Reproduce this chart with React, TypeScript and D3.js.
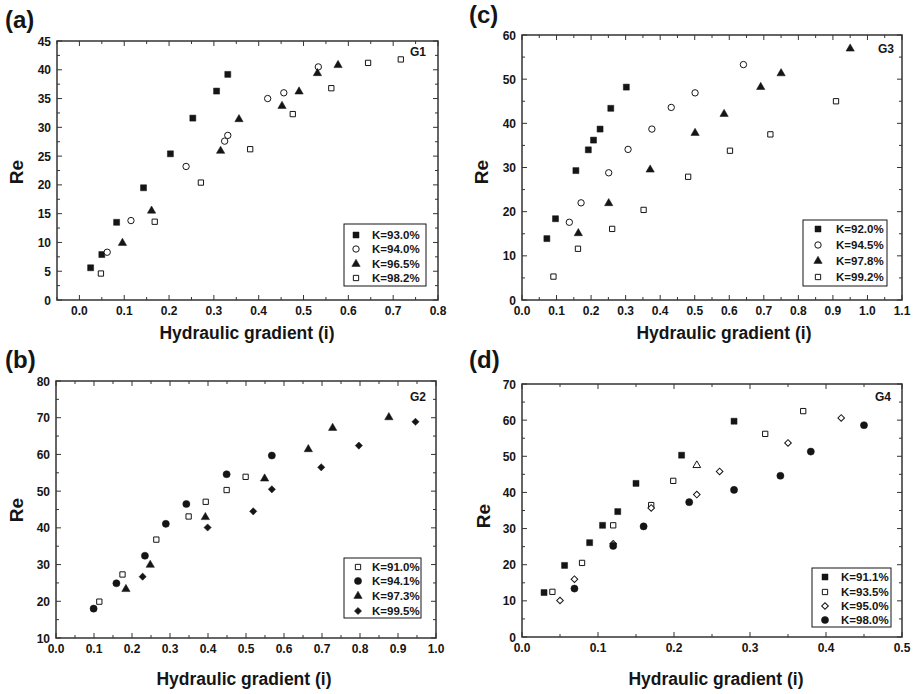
import React, { useEffect, useRef } from 'react';
import * as d3 from 'd3';

type Pt = [number, number];

// (a) G1
const g1Legend = ['K=93.0%', 'K=94.0%', 'K=96.5%', 'K=98.2%'];
const g1K930: Pt[] = [[0.025, 5.6], [0.05, 7.9], [0.083, 13.5], [0.143, 19.5], [0.203, 25.4], [0.253, 31.6], [0.306, 36.3], [0.331, 39.2]];
const g1K940: Pt[] = [[0.062, 8.3], [0.115, 13.8], [0.238, 23.2], [0.324, 27.6], [0.331, 28.6], [0.42, 35.0], [0.456, 36.0], [0.533, 40.5]];
const g1K965: Pt[] = [[0.096, 9.9], [0.161, 15.5], [0.315, 25.9], [0.356, 31.4], [0.452, 33.7], [0.49, 36.2], [0.531, 39.4], [0.577, 40.8]];
const g1K982: Pt[] = [[0.048, 4.6], [0.168, 13.6], [0.271, 20.4], [0.381, 26.2], [0.476, 32.3], [0.562, 36.8], [0.644, 41.2], [0.717, 41.8]];

// (b) G2
const g2Legend = ['K=91.0%', 'K=94.1%', 'K=97.3%', 'K=99.5%'];
const g2K910: Pt[] = [[0.114, 19.9], [0.175, 27.3], [0.264, 36.8], [0.349, 43.1], [0.394, 47.1], [0.449, 50.3], [0.499, 53.9]];
const g2K941: Pt[] = [[0.099, 18.0], [0.159, 24.9], [0.234, 32.4], [0.289, 41.1], [0.343, 46.5], [0.449, 54.6], [0.568, 59.7]];
const g2K973: Pt[] = [[0.184, 23.3], [0.248, 29.9], [0.393, 42.9], [0.549, 53.4], [0.664, 61.4], [0.728, 67.2], [0.876, 70.1]];
const g2K995: Pt[] = [[0.228, 26.7], [0.399, 40.1], [0.519, 44.5], [0.568, 50.5], [0.698, 56.5], [0.797, 62.4], [0.946, 68.9]];

// (c) G3
const g3Legend = ['K=92.0%', 'K=94.5%', 'K=97.8%', 'K=99.2%'];
const g3K920: Pt[] = [[0.072, 13.9], [0.097, 18.4], [0.156, 29.3], [0.192, 34.0], [0.207, 36.2], [0.226, 38.7], [0.257, 43.4], [0.302, 48.2]];
const g3K945: Pt[] = [[0.137, 17.6], [0.171, 22.0], [0.251, 28.8], [0.307, 34.1], [0.376, 38.7], [0.432, 43.6], [0.501, 46.9], [0.641, 53.3]];
const g3K978: Pt[] = [[0.163, 15.1], [0.251, 21.9], [0.371, 29.5], [0.501, 37.8], [0.585, 42.1], [0.691, 48.2], [0.75, 51.3], [0.95, 56.9]];
const g3K992: Pt[] = [[0.091, 5.3], [0.162, 11.6], [0.261, 16.1], [0.352, 20.4], [0.481, 27.9], [0.602, 33.8], [0.719, 37.5], [0.909, 45.0]];

// (d) G4
const g4Legend = ['K=91.1%', 'K=93.5%', 'K=95.0%', 'K=98.0%'];
const g4K911: Pt[] = [[0.029, 12.3], [0.056, 19.8], [0.089, 26.1], [0.106, 30.9], [0.126, 34.7], [0.15, 42.5], [0.21, 50.3], [0.279, 59.7]];
const g4K935: Pt[] = [[0.04, 12.5], [0.079, 20.5], [0.12, 30.9], [0.17, 36.5], [0.199, 43.2], [0.32, 56.2], [0.37, 62.5]];
const g4K950: Pt[] = [[0.05, 10.1], [0.069, 16.0], [0.12, 25.8], [0.17, 35.7], [0.23, 39.4], [0.26, 45.8], [0.35, 53.7], [0.42, 60.6]];
const g4K980: Pt[] = [[0.069, 13.4], [0.12, 25.2], [0.16, 30.6], [0.22, 37.3], [0.279, 40.7], [0.34, 44.6], [0.38, 51.3], [0.45, 58.6]];
const g4Stray: Pt[] = [[0.23, 47.5]]; // open triangle, not in legend

type Marker = 'sq' | 'osq' | 'ci' | 'oci' | 'tri' | 'otri' | 'dia' | 'odia';

interface Panel {
  tag: string; group: string;
  left: number; right: number; top: number; bottom: number;
  xDomain: [number, number]; xMajor: number; xMinor: number;
  yDomain: [number, number]; yMajor: number; yMinor: number;
  series: { pts: Pt[]; marker: Marker; label?: string }[];
  legend: { x0: number; x1: number; y0: number; y1: number; rows: number[]; mx: number; tx: number };
  tagPos: [number, number]; groupPos: [number, number];
  xTitlePos: [number, number]; yTitlePos: [number, number];
}

const panels: Panel[] = [
  {
    tag: '(a)', group: 'G1', left: 57, right: 438, top: 41, bottom: 300,
    xDomain: [-0.05, 0.8], xMajor: 0.1, xMinor: 0.05, yDomain: [0, 45], yMajor: 5, yMinor: 2.5,
    series: [
      { pts: g1K930, marker: 'sq', label: g1Legend[0] },
      { pts: g1K940, marker: 'oci', label: g1Legend[1] },
      { pts: g1K965, marker: 'tri', label: g1Legend[2] },
      { pts: g1K982, marker: 'osq', label: g1Legend[3] },
    ],
    legend: { x0: 344, x1: 426, y0: 224, y1: 286, rows: [235, 249, 264, 278], mx: 356, tx: 372 },
    tagPos: [5, 28], groupPos: [418, 56], xTitlePos: [247, 339], yTitlePos: [16, 172],
  },
  {
    tag: '(c)', group: 'G3', left: 522, right: 902, top: 35, bottom: 300,
    xDomain: [0, 1.1], xMajor: 0.1, xMinor: 0.05, yDomain: [0, 60], yMajor: 10, yMinor: 5,
    series: [
      { pts: g3K920, marker: 'sq', label: g3Legend[0] },
      { pts: g3K945, marker: 'oci', label: g3Legend[1] },
      { pts: g3K978, marker: 'tri', label: g3Legend[2] },
      { pts: g3K992, marker: 'osq', label: g3Legend[3] },
    ],
    legend: { x0: 803, x1: 887, y0: 220, y1: 286, rows: [229, 245, 261, 277], mx: 818, tx: 836 },
    tagPos: [469, 23], groupPos: [886, 53], xTitlePos: [724, 339], yTitlePos: [481, 172],
  },
  {
    tag: '(b)', group: 'G2', left: 56, right: 436, top: 381, bottom: 638,
    xDomain: [0, 1.0], xMajor: 0.1, xMinor: 0.05, yDomain: [10, 80], yMajor: 10, yMinor: 5,
    series: [
      { pts: g2K910, marker: 'osq', label: g2Legend[0] },
      { pts: g2K941, marker: 'ci', label: g2Legend[1] },
      { pts: g2K973, marker: 'tri', label: g2Legend[2] },
      { pts: g2K995, marker: 'dia', label: g2Legend[3] },
    ],
    legend: { x0: 344, x1: 421, y0: 558, y1: 618, rows: [567, 581, 596, 611], mx: 358, tx: 372 },
    tagPos: [5, 368], groupPos: [418, 401], xTitlePos: [244, 685], yTitlePos: [16, 510],
  },
  {
    tag: '(d)', group: 'G4', left: 522, right: 902, top: 384, bottom: 637,
    xDomain: [0, 0.5], xMajor: 0.1, xMinor: 0.05, yDomain: [0, 70], yMajor: 10, yMinor: 5,
    series: [
      { pts: g4K911, marker: 'sq', label: g4Legend[0] },
      { pts: g4K935, marker: 'osq', label: g4Legend[1] },
      { pts: g4K950, marker: 'odia', label: g4Legend[2] },
      { pts: g4K980, marker: 'ci', label: g4Legend[3] },
      { pts: g4Stray, marker: 'otri' },
    ],
    legend: { x0: 812, x1: 891, y0: 568, y1: 627, rows: [577, 592, 606, 620], mx: 825, tx: 841 },
    tagPos: [469, 368], groupPos: [883, 401], xTitlePos: [716, 685], yTitlePos: [483, 516],
  },
];

const FONT = 'Liberation Sans, Arial, Helvetica, sans-serif';
const INK = '#151515';

// steps between a and b, rounded so 0.1 multiples don't drift
const stepRange = (a: number, b: number, step: number) => {
  const out: number[] = [];
  const n0 = Math.ceil(a / step - 1e-6), n1 = Math.floor(b / step + 1e-6);
  for (let i = n0; i <= n1; i++) out.push(+(i * step).toFixed(4));
  return out;
};

const drawMarker = (g: d3.Selection<SVGGElement, unknown, null, undefined>, m: Marker, x: number, y: number) => {
  const filled = m === 'sq' || m === 'ci' || m === 'tri' || m === 'dia';
  let type: d3.SymbolType = d3.symbolSquare;
  let size = 36;
  let rot = 0;
  if (m === 'osq') size = 28;
  if (m === 'ci') { type = d3.symbolCircle; size = 40; }
  if (m === 'oci') { type = d3.symbolCircle; size = 32; }
  if (m === 'tri' || m === 'otri') { type = d3.symbolTriangle; size = m === 'tri' ? 30 : 26; }
  if (m === 'dia' || m === 'odia') { size = m === 'dia' ? 26 : 22; rot = 45; }
  g.append('path')
    .attr('d', d3.symbol(type, size)() as string)
    .attr('transform', `translate(${x},${y}) rotate(${rot})`)
    .attr('fill', filled ? INK : '#fff')
    .attr('stroke', INK)
    .attr('stroke-width', filled ? 0.5 : 1);
};

const App = () => {
  const svgRef = useRef<SVGSVGElement | null>(null);

  useEffect(() => {
    if (!svgRef.current) return;
    const svg = d3.select(svgRef.current);
    svg.selectAll('*').remove();

    panels.forEach(p => {
      const g = svg.append('g');
      const x = d3.scaleLinear().domain(p.xDomain).range([p.left, p.right]);
      const y = d3.scaleLinear().domain(p.yDomain).range([p.bottom, p.top]);

      // ticks on all four sides, pointing in
      const tickG = g.append('g').attr('stroke', '#333').attr('stroke-width', 1);
      const xs = stepRange(p.xDomain[0], p.xDomain[1], p.xMinor);
      const ys = stepRange(p.yDomain[0], p.yDomain[1], p.yMinor);
      const isMajor = (v: number, step: number) => Math.abs(v / step - Math.round(v / step)) < 1e-6;
      xs.forEach(v => {
        const len = isMajor(v, p.xMajor) ? 5 : 3;
        tickG.append('line').attr('x1', x(v)).attr('x2', x(v)).attr('y1', p.bottom).attr('y2', p.bottom - len);
        tickG.append('line').attr('x1', x(v)).attr('x2', x(v)).attr('y1', p.top).attr('y2', p.top + len);
      });
      ys.forEach(v => {
        const len = isMajor(v, p.yMajor) ? 5 : 3;
        tickG.append('line').attr('y1', y(v)).attr('y2', y(v)).attr('x1', p.left).attr('x2', p.left + len);
        tickG.append('line').attr('y1', y(v)).attr('y2', y(v)).attr('x1', p.right).attr('x2', p.right - len);
      });

      g.append('rect')
        .attr('x', p.left).attr('y', p.top)
        .attr('width', p.right - p.left).attr('height', p.bottom - p.top)
        .attr('fill', 'none').attr('stroke', '#333').attr('stroke-width', 1.5);

      const labG = g.append('g').attr('font-family', FONT).attr('font-weight', 'bold').attr('font-size', 12).attr('fill', INK);
      stepRange(Math.max(0, p.xDomain[0]), p.xDomain[1], p.xMajor).forEach(v => {
        labG.append('text').attr('x', x(v)).attr('y', p.bottom + 15).attr('text-anchor', 'middle').text(v.toFixed(1));
      });
      stepRange(p.yDomain[0], p.yDomain[1], p.yMajor).forEach(v => {
        labG.append('text').attr('x', p.left - 6).attr('y', y(v) + 4.5).attr('text-anchor', 'end').text(d3.format('d')(v));
      });

      // points
      const ptsG = g.append('g');
      p.series.forEach(s => s.pts.forEach(([px, py]) => drawMarker(ptsG, s.marker, x(px), y(py))));

      // legend
      const L = p.legend;
      g.append('rect').attr('x', L.x0).attr('y', L.y0).attr('width', L.x1 - L.x0).attr('height', L.y1 - L.y0)
        .attr('fill', '#fff').attr('stroke', INK).attr('stroke-width', 1);
      p.series.filter(s => s.label).forEach((s, i) => {
        drawMarker(g, s.marker, L.mx, L.rows[i]);
        g.append('text').attr('x', L.tx).attr('y', L.rows[i] + 4)
          .attr('font-family', FONT).attr('font-weight', 'bold').attr('font-size', 11.5).attr('fill', INK)
          .text(s.label as string);
      });

      g.append('text').attr('x', p.groupPos[0]).attr('y', p.groupPos[1]).attr('text-anchor', 'middle')
        .attr('font-family', FONT).attr('font-weight', 'bold').attr('font-size', 12).attr('fill', INK).text(p.group);

      g.append('text').attr('x', p.tagPos[0]).attr('y', p.tagPos[1])
        .attr('font-family', FONT).attr('font-weight', 'bold').attr('font-size', 24).attr('fill', INK).text(p.tag);

      g.append('text').attr('x', p.xTitlePos[0]).attr('y', p.xTitlePos[1]).attr('text-anchor', 'middle')
        .attr('font-family', FONT).attr('font-weight', 'bold').attr('font-size', 17.5).attr('fill', INK)
        .text('Hydraulic gradient (i)');

      g.append('text')
        .attr('transform', `translate(${p.yTitlePos[0] + 7},${p.yTitlePos[1]}) rotate(-90)`)
        .attr('text-anchor', 'middle')
        .attr('font-family', FONT).attr('font-weight', 'bold').attr('font-size', 19).attr('fill', INK)
        .text('Re');
    });
  }, []);

  return (
    <svg ref={svgRef} width={916} height={694}
      style={{ position: 'absolute', left: 0, top: 0, background: '#fff' }} />
  );
};

export default App;
